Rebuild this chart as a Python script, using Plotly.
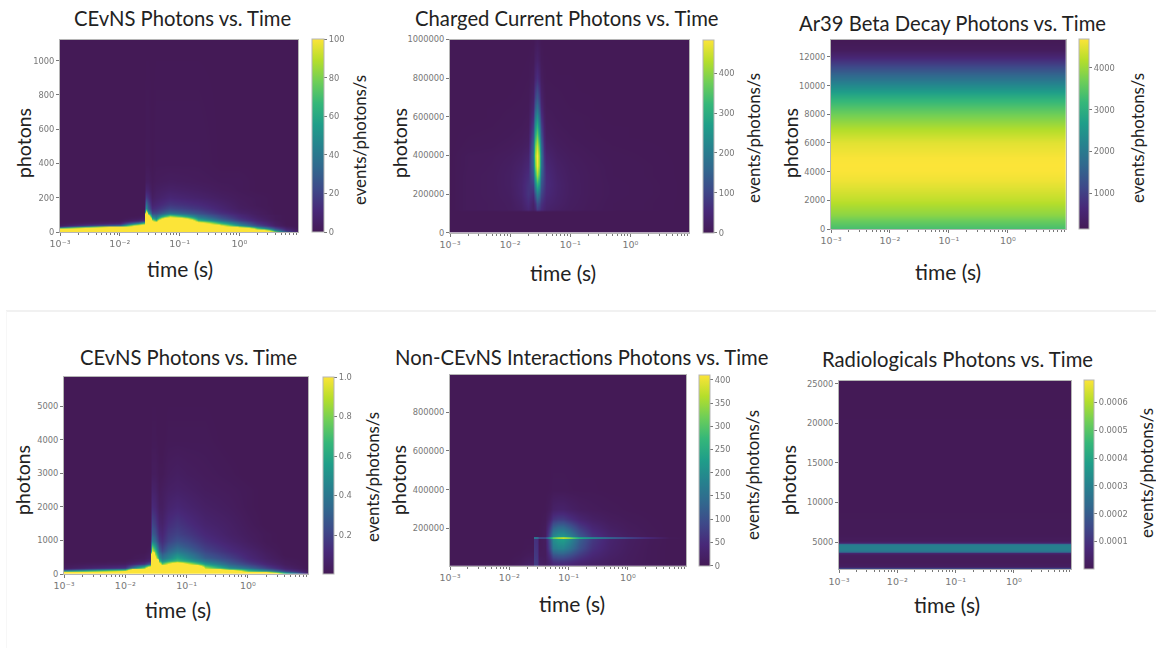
import plotly.graph_objects as go

W, H = 1156, 648
FONT = "Lato"
VIRIDIS = [[0, "#441a56"], [0.111, "#482878"], [0.222, "#3e4989"], [0.333, "#31688e"], [0.444, "#26828e"],
           [0.556, "#1f9e89"], [0.667, "#35b779"], [0.778, "#6ece58"], [0.889, "#b5de2b"], [1, "#fce438"]]

# ---- Panel 1: CEvNS (top)
t1 = [0.001, 0.01, 0.02, 0.025, 0.027, 0.03, 0.035, 0.04, 0.07, 0.2, 0.5, 1, 2, 4, 6, 9.5]
y1 = [0, 10, 20, 30, 40, 50, 60, 70, 80, 90, 100, 110, 120, 140, 160, 200, 250, 300, 400, 1124]
z1 = [
    [300, 300, 300, 300, 300, 300, 300, 300, 300, 300, 300, 300, 300, 110, 40, 10],
    [200, 300, 300, 300, 300, 300, 300, 300, 300, 300, 300, 300, 200, 50, 15, 3],
    [100, 200, 300, 300, 300, 300, 300, 300, 300, 300, 300, 200, 80, 25, 8, 1],
    [15, 120, 200, 200, 300, 300, 300, 300, 300, 300, 200, 90, 40, 12, 3, 0],
    [3, 40, 120, 140, 300, 300, 300, 300, 300, 300, 105, 55, 25, 6, 1, 0],
    [1, 10, 55, 80, 300, 300, 300, 300, 300, 130, 70, 38, 16, 4, 0, 0],
    [0, 3, 20, 35, 300, 300, 200, 110, 300, 95, 50, 28, 12, 3, 0, 0],
    [0, 1, 8, 15, 300, 300, 100, 70, 300, 70, 38, 20, 9, 2, 0, 0],
    [0, 0, 3, 6, 300, 250, 65, 48, 180, 52, 28, 15, 7, 1, 0, 0],
    [0, 0, 1, 3, 300, 140, 45, 38, 95, 40, 22, 12, 5, 1, 0, 0],
    [0, 0, 0, 1, 300, 100, 32, 30, 60, 32, 18, 10, 4, 1, 0, 0],
    [0, 0, 0, 1, 200, 70, 24, 24, 42, 26, 15, 8, 3, 0, 0, 0],
    [0, 0, 0, 0, 105, 50, 18, 19, 32, 22, 12, 6, 3, 0, 0, 0],
    [0, 0, 0, 0, 50, 30, 12, 14, 22, 16, 9, 4, 2, 0, 0, 0],
    [0, 0, 0, 0, 38, 24, 8, 10, 16, 12, 7, 3, 1, 0, 0, 0],
    [0, 0, 0, 0, 18, 14, 4, 6, 10, 7, 4, 2, 1, 0, 0, 0],
    [0, 0, 0, 0, 8, 7, 2, 4, 6, 4, 2, 1, 0, 0, 0, 0],
    [0, 0, 0, 0, 3, 3, 1, 2, 3, 2, 1, 1, 0, 0, 0, 0],
    [0, 0, 0, 0, 1, 1, 0, 1, 1, 1, 0, 0, 0, 0, 0, 0],
    [0, 0, 0, 0, 0, 0, 0, 0, 0, 0, 0, 0, 0, 0, 0, 0],
]

# ---- Panel 2: Charged Current
t2 = [0.001, 0.002, 0.005, 0.01, 0.015, 0.02, 0.024, 0.026, 0.028, 0.03, 0.033, 0.036, 0.04, 0.06, 0.1, 0.2, 0.5, 9.5]
y2 = [0, 110000, 120000, 150000, 200000, 250000, 300000, 350000, 400000, 450000, 500000, 550000, 600000,
      650000, 700000, 800000, 900000, 1000000]
z2 = [
    [0, 0, 0, 0, 0, 0, 0, 0, 0, 0, 0, 0, 0, 0, 0, 0, 0, 0],
    [0, 0, 0, 0, 0, 0, 0, 0, 0, 0, 0, 0, 0, 0, 0, 0, 0, 0],
    [0, 8, 10, 14, 24, 45, 25, 40, 85, 75, 55, 40, 32, 22, 14, 8, 4, 0],
    [0, 8, 10, 15, 30, 58, 30, 65, 120, 105, 70, 50, 40, 28, 16, 9, 4, 0],
    [0, 8, 11, 18, 38, 72, 55, 130, 200, 170, 100, 70, 52, 32, 18, 10, 5, 0],
    [0, 8, 11, 20, 40, 70, 90, 220, 310, 270, 130, 85, 58, 34, 18, 10, 5, 0],
    [0, 8, 11, 20, 36, 60, 130, 310, 420, 350, 160, 90, 55, 30, 17, 10, 4, 0],
    [0, 7, 10, 18, 30, 48, 160, 380, 475, 400, 185, 85, 48, 26, 15, 9, 4, 0],
    [0, 7, 9, 14, 22, 36, 170, 410, 484, 400, 190, 70, 38, 20, 12, 7, 3, 0],
    [0, 3, 5, 9, 14, 22, 150, 370, 440, 350, 165, 55, 26, 14, 8, 5, 2, 0],
    [0, 2, 3, 6, 9, 15, 120, 310, 380, 290, 130, 42, 18, 10, 6, 3, 1, 0],
    [0, 1, 2, 4, 6, 10, 90, 250, 310, 230, 100, 32, 13, 7, 4, 2, 1, 0],
    [0, 0, 1, 3, 4, 7, 62, 190, 240, 175, 70, 22, 9, 5, 3, 2, 0, 0],
    [0, 0, 1, 2, 3, 5, 42, 140, 180, 130, 48, 15, 6, 4, 2, 1, 0, 0],
    [0, 0, 0, 1, 2, 3, 28, 100, 130, 95, 32, 10, 4, 3, 1, 1, 0, 0],
    [0, 0, 0, 0, 1, 2, 12, 48, 65, 45, 14, 4, 2, 1, 1, 0, 0, 0],
    [0, 0, 0, 0, 0, 1, 4, 22, 28, 18, 5, 1, 1, 0, 0, 0, 0, 0],
    [0, 0, 0, 0, 0, 0, 1, 6, 10, 6, 1, 0, 0, 0, 0, 0, 0, 0],
]

# ---- Panel 3: Ar39 (no time dependence in the picture)
t3 = [0.001, 9.5]
y3 = [0, 500, 1000, 2000, 3000, 3500, 4000, 4500, 5000, 6000, 7000, 8000, 9000, 10000, 11000, 12000, 12500, 13220]
p3 = [3300, 3600, 3900, 4250, 4500, 4620, 4680, 4691, 4670, 4500, 4150, 3700, 3120, 2300, 1450, 560, 250, 143]

# ---- Panel 4: CEvNS (bottom)
t4 = [0.001, 0.01, 0.02, 0.025, 0.027, 0.03, 0.035, 0.04, 0.05, 0.07, 0.1, 0.2, 0.5, 1, 2, 4, 9.5]
y4 = [0, 50, 100, 150, 200, 300, 400, 500, 600, 700, 800, 1000, 1200, 1500, 2000, 2500, 3000, 4000, 5872]
z4 = [
    [3, 3, 3, 3, 3, 3, 3, 3, 3, 3, 3, 3, 3, 3, 3, 2, 0.2],
    [2, 3, 3, 3, 3, 3, 3, 3, 3, 3, 3, 3, 3, 3, 1.5, 0.6, 0.05],
    [0.5, 1, 3, 3, 3, 3, 3, 3, 3, 3, 3, 3, 1.5, 0.7, 0.5, 0.2, 0.02],
    [0.1, 0.4, 2, 3, 3, 3, 3, 3, 3, 3, 3, 1.5, 0.7, 0.5, 0.3, 0.1, 0.01],
    [0.03, 0.15, 0.8, 1.5, 3, 3, 3, 3, 3, 3, 3, 0.9, 0.5, 0.35, 0.2, 0.07, 0],
    [0.01, 0.04, 0.15, 0.3, 3, 3, 1.2, 0.75, 1.0, 1.4, 1.0, 0.55, 0.32, 0.2, 0.1, 0.03, 0],
    [0, 0.01, 0.05, 0.1, 3, 3, 0.7, 0.5, 0.6, 0.7, 0.6, 0.4, 0.25, 0.14, 0.07, 0.02, 0],
    [0, 0, 0.02, 0.05, 3, 1.1, 0.5, 0.38, 0.45, 0.58, 0.48, 0.3, 0.2, 0.11, 0.05, 0.01, 0],
    [0, 0, 0.01, 0.03, 2, 0.85, 0.4, 0.3, 0.38, 0.48, 0.4, 0.25, 0.16, 0.09, 0.04, 0, 0],
    [0, 0, 0, 0.02, 0.95, 0.7, 0.3, 0.22, 0.32, 0.4, 0.34, 0.21, 0.13, 0.08, 0.03, 0, 0],
    [0, 0, 0, 0.01, 0.75, 0.55, 0.24, 0.18, 0.27, 0.33, 0.28, 0.18, 0.11, 0.06, 0.02, 0, 0],
    [0, 0, 0, 0, 0.42, 0.34, 0.16, 0.13, 0.2, 0.25, 0.22, 0.14, 0.08, 0.04, 0.01, 0, 0],
    [0, 0, 0, 0, 0.3, 0.25, 0.12, 0.1, 0.17, 0.2, 0.17, 0.11, 0.06, 0.03, 0.01, 0, 0],
    [0, 0, 0, 0, 0.22, 0.18, 0.08, 0.07, 0.13, 0.16, 0.13, 0.08, 0.05, 0.02, 0, 0, 0],
    [0, 0, 0, 0, 0.12, 0.1, 0.04, 0.04, 0.08, 0.1, 0.08, 0.05, 0.03, 0.01, 0, 0, 0],
    [0, 0, 0, 0, 0.07, 0.06, 0.02, 0.03, 0.05, 0.06, 0.05, 0.03, 0.02, 0.01, 0, 0, 0],
    [0, 0, 0, 0, 0.03, 0.03, 0.01, 0.01, 0.03, 0.04, 0.03, 0.02, 0.01, 0, 0, 0, 0],
    [0, 0, 0, 0, 0.01, 0.01, 0, 0, 0.01, 0.01, 0.01, 0.01, 0, 0, 0, 0, 0],
    [0, 0, 0, 0, 0, 0, 0, 0, 0, 0, 0, 0, 0, 0, 0, 0, 0],
]

# ---- Panel 5: Non-CEvNS Interactions
t5 = [0.001, 0.01, 0.015, 0.02, 0.025, 0.026, 0.029, 0.032, 0.04, 0.048, 0.055, 0.065, 0.08, 0.1, 0.15, 0.25, 0.5, 1, 2.5, 5, 9.5]
y5 = [6500, 30000, 60000, 100000, 143000, 146000, 150000, 154000, 157000, 200000, 250000, 300000, 400000, 600000, 993000]
z5 = [
    [0, 3, 10, 20, 25, 75, 70, 25, 15, 26, 34, 36, 36, 32, 26, 20, 14, 9, 3, 0, 0],
    [0, 1, 6, 14, 18, 75, 70, 18, 12, 36, 58, 64, 64, 58, 42, 28, 16, 10, 3, 0, 0],
    [0, 0, 2, 6, 8, 70, 65, 10, 10, 60, 105, 115, 115, 100, 70, 42, 22, 11, 3, 0, 0],
    [0, 0, 0, 2, 2, 65, 60, 6, 10, 95, 170, 185, 185, 160, 105, 58, 28, 13, 3, 0, 0],
    [0, 0, 0, 1, 1, 60, 55, 3, 12, 115, 200, 225, 230, 200, 125, 70, 32, 15, 4, 0, 0],
    [0, 0, 0, 0, 1, 150, 140, 80, 80, 210, 290, 330, 350, 310, 220, 170, 120, 80, 35, 3, 0],
    [0, 0, 0, 0, 1, 160, 150, 90, 90, 230, 310, 350, 375, 340, 250, 190, 130, 85, 38, 4, 0],
    [0, 0, 0, 0, 0, 150, 140, 80, 80, 210, 290, 330, 350, 310, 220, 170, 120, 80, 35, 3, 0],
    [0, 0, 0, 0, 0, 0, 0, 1, 12, 115, 195, 220, 225, 195, 120, 65, 30, 14, 3, 0, 0],
    [0, 0, 0, 0, 0, 0, 0, 1, 8, 75, 130, 150, 150, 125, 78, 42, 18, 8, 2, 0, 0],
    [0, 0, 0, 0, 0, 0, 0, 0, 4, 32, 62, 72, 72, 58, 36, 20, 9, 4, 1, 0, 0],
    [0, 0, 0, 0, 0, 0, 0, 0, 1, 10, 22, 26, 26, 20, 12, 7, 3, 1, 0, 0, 0],
    [0, 0, 0, 0, 0, 0, 0, 0, 0, 1, 3, 3, 3, 2, 1, 1, 0, 0, 0, 0, 0],
    [0, 0, 0, 0, 0, 0, 0, 0, 0, 0, 0, 0, 0, 0, 0, 0, 0, 0, 0, 0, 0],
    [0, 0, 0, 0, 0, 0, 0, 0, 0, 0, 0, 0, 0, 0, 0, 0, 0, 0, 0, 0, 0],
]

# ---- Panel 6: Radiologicals (no time dependence in the picture)
t6 = [0.001, 9.5]
y6 = [1550, 1700, 1850, 2500, 3400, 3650, 3800, 4000, 4300, 4600, 4800, 4950, 5200, 6000, 10000, 25380]
p6 = [2.8e-4, 1.2e-4, 2.5e-5, 1e-5, 1.5e-5, 6e-5, 2.4e-4, 2.9e-4, 3.0e-4, 2.9e-4, 2.4e-4, 6e-5, 1.5e-5, 5e-6, 2e-6, 1e-6]

# ---- Titles and tick labels
titles = ["CEvNS Photons vs. Time", "Charged Current Photons vs. Time", "Ar39 Beta Decay Photons vs. Time",
          "CEvNS Photons vs. Time", "Non-CEvNS Interactions Photons vs. Time", "Radiologicals Photons vs. Time"]
x_label = "time (s)"
y_label = "photons"
cb_label = "events/photons/s"
time_ticks = [0.001, 0.01, 0.1, 1]
time_tick_text = ["10⁻³", "10⁻²", "10⁻¹", "10⁰"]
time_minor = [m * d for d in (0.001, 0.01, 0.1, 1) for m in range(2, 10)]

# Layout of each panel, in page pixels
panels = [
    dict(t=t1, y=y1, z=z1, box=(60, 298, 39.5, 232), yrange=(0, 1124), yticks=[0, 200, 400, 600, 800, 1000],
         zr=(0, 100), cticks=[0, 20, 40, 60, 80, 100], cb=(312, 324),
         title=(182, 18), xl=(180, 268), yl=(23, 143), cl=(360, 140)),
    dict(t=t2, y=y2, z=z2, box=(450, 689.3, 39.5, 232.7), yrange=(0, 1000000),
         yticks=[0, 200000, 400000, 600000, 800000, 1000000],
         zr=(0, 484), cticks=[0, 100, 200, 300, 400], cb=(703.3, 714.3),
         title=(567, 18), xl=(563, 272), yl=(399, 143), cl=(753, 138)),
    dict(t=t3, y=y3, z=[[v, v] for v in p3], box=(831, 1065.7, 39.5, 229), yrange=(0, 13220),
         yticks=[0, 2000, 4000, 6000, 8000, 10000, 12000],
         zr=(143, 4691), cticks=[1000, 2000, 3000, 4000], cb=(1079, 1089.3),
         title=(952, 23), xl=(948, 271), yl=(790, 143), cl=(1137, 138)),
    dict(t=t4, y=y4, z=z4, box=(64, 308, 376.7, 574), yrange=(0, 5872), yticks=[0, 1000, 2000, 3000, 4000, 5000],
         zr=(0.003, 1), cticks=[0.2, 0.4, 0.6, 0.8, 1.0], cb=(322.7, 333.3),
         title=(188, 357), xl=(178, 609), yl=(22, 480), cl=(372, 477)),
    dict(t=t5, y=y5, z=z5, box=(450, 686, 375, 565.7), yrange=(6500, 993000),
         yticks=[200000, 400000, 600000, 800000],
         zr=(0, 411), cticks=[0, 50, 100, 150, 200, 250, 300, 350, 400], cb=(698.7, 709.3),
         title=(581, 357), xl=(572, 603), yl=(398, 480), cl=(752, 475)),
    dict(t=t6, y=y6, z=[[v, v] for v in p6], box=(839, 1071, 380.7, 569.3), yrange=(1550, 25380),
         yticks=[5000, 10000, 15000, 20000, 25000],
         zr=(2e-7, 0.00068), cticks=[0.0001, 0.0002, 0.0003, 0.0004, 0.0005, 0.0006], cb=(1083.7, 1094),
         title=(957, 359), xl=(947, 604), yl=(788, 480), cl=(1146, 473)),
]

TICK = "#777777"
FRAME = "#b5b5b5"
fig = go.Figure()
annotations = []


def note(text, pos, size, angle=0, color="#222222"):
    annotations.append(dict(text=text, x=pos[0] / W, y=1 - pos[1] / H, xref="paper", yref="paper",
                            xanchor="center", yanchor="middle", showarrow=False, textangle=angle,
                            font=dict(family=FONT, size=size, color=color)))


for i, (p, title) in enumerate(zip(panels, titles), start=1):
    left, right, top, bottom = p["box"]
    suffix = "" if i == 1 else str(i)
    fig.add_trace(go.Heatmap(
        x=p["t"], y=p["y"], z=p["z"], zmin=p["zr"][0], zmax=p["zr"][1], zsmooth="best",
        colorscale=VIRIDIS, xaxis="x" + suffix, yaxis="y" + suffix, hoverinfo="skip",
        colorbar=dict(x=p["cb"][0] / W, xanchor="left", xpad=0, ypad=0,
                      thickness=p["cb"][1] - p["cb"][0], thicknessmode="pixels",
                      y=1 - bottom / H, yanchor="bottom", len=(bottom - top) / H, lenmode="fraction",
                      outlinecolor=FRAME, outlinewidth=1, tickmode="array", tickvals=p["cticks"],
                      ticktext=[str(v) for v in p["cticks"]],
                      ticks="outside", ticklen=3, tickcolor=TICK, tickwidth=1,
                      tickfont=dict(family="DejaVu Sans", size=8.3, color=TICK)),
    ))
    frame = dict(showline=True, linecolor=FRAME, linewidth=1, mirror=True, showgrid=False, zeroline=False,
                 ticks="outside", ticklen=3, tickcolor=TICK, tickfont=dict(family="DejaVu Sans", size=8.3, color=TICK))
    fig.update_layout({
        "xaxis" + suffix: dict(frame, type="log", range=[-3, 0.98], domain=[left / W, right / W],
                               anchor="y" + suffix, tickmode="array", tickvals=time_ticks,
                               ticktext=time_tick_text, tickfont=dict(family="DejaVu Sans", size=9.5, color=TICK),
                               minor=dict(ticks="outside", ticklen=2, tickcolor=TICK, tickmode="array",
                                          tickvals=time_minor)),
        "yaxis" + suffix: dict(frame, range=list(p["yrange"]), domain=[1 - bottom / H, 1 - top / H],
                               anchor="x" + suffix, tickmode="array", tickvals=p["yticks"],
                               ticktext=[str(v) for v in p["yticks"]]),
    })
    note(title, p["title"], 20.25)
    note(x_label, p["xl"], 21)
    note(y_label, p["yl"], 19.5, angle=-90)
    note(cb_label, p["cl"], 16.8, angle=-90)

fig.add_shape(type="line", xref="paper", yref="paper", x0=6 / W, x1=1, y0=1 - 311 / H, y1=1 - 311 / H,
              line=dict(color="#ececec", width=1.5))
fig.add_shape(type="line", xref="paper", yref="paper", x0=6.5 / W, x1=6.5 / W, y0=0, y1=1 - 311 / H,
              line=dict(color="#f7f7f7", width=1))
fig.update_layout(width=W, height=H, margin=dict(l=0, r=0, t=0, b=0, autoexpand=False), paper_bgcolor="white",
                  plot_bgcolor="white", showlegend=False, annotations=annotations)
SOFTEN = ("var s=document.createElement('style');"
          "s.textContent='.xtick text,.ytick text,.cbaxis text{filter:blur(0.45px)} .hm image{filter:blur(0.7px)}';"
          "document.head.appendChild(s);"
          "document.body.style.margin='0';document.body.style.background='white';")
fig.write_html("out.html", config={"displayModeBar": False}, post_script=SOFTEN)
